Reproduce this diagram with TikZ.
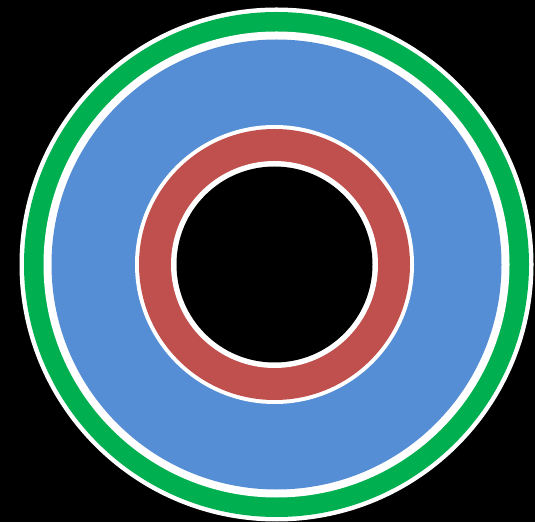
\documentclass[tikz,border=0pt]{standalone}
\usepackage{tikz}

\definecolor{ringgreen}{HTML}{00B050}
\definecolor{ringblue}{HTML}{558ED5}
\definecolor{ringred}{HTML}{C0504D}

\begin{document}
\begin{tikzpicture}[
    x=1pt, y=1pt,
    disk/.style={fill=#1, draw=none}
]
% background
\fill[black] (0,0) rectangle (535,522);
\useasboundingbox (0,0) rectangle (535,522);

\coordinate (outerc) at (276.5,257.5);
\coordinate (innerc) at (274.5,257.5);

% outer rings
\path[disk=white]      (outerc) circle[radius=257];
\path[disk=ringgreen]  (outerc) circle[radius=252.5];
\path[disk=white]      (outerc) circle[radius=233];
\path[disk=ringblue]   (outerc) circle[radius=225];

% inner rings
\path[disk=white]      (innerc) circle[radius=139.5];
\path[disk=ringred]    (innerc) circle[radius=135.5];
\path[disk=white]      (innerc) circle[radius=103.5];
\path[disk=black]      (innerc) circle[radius=98];
\end{tikzpicture}
\end{document}
